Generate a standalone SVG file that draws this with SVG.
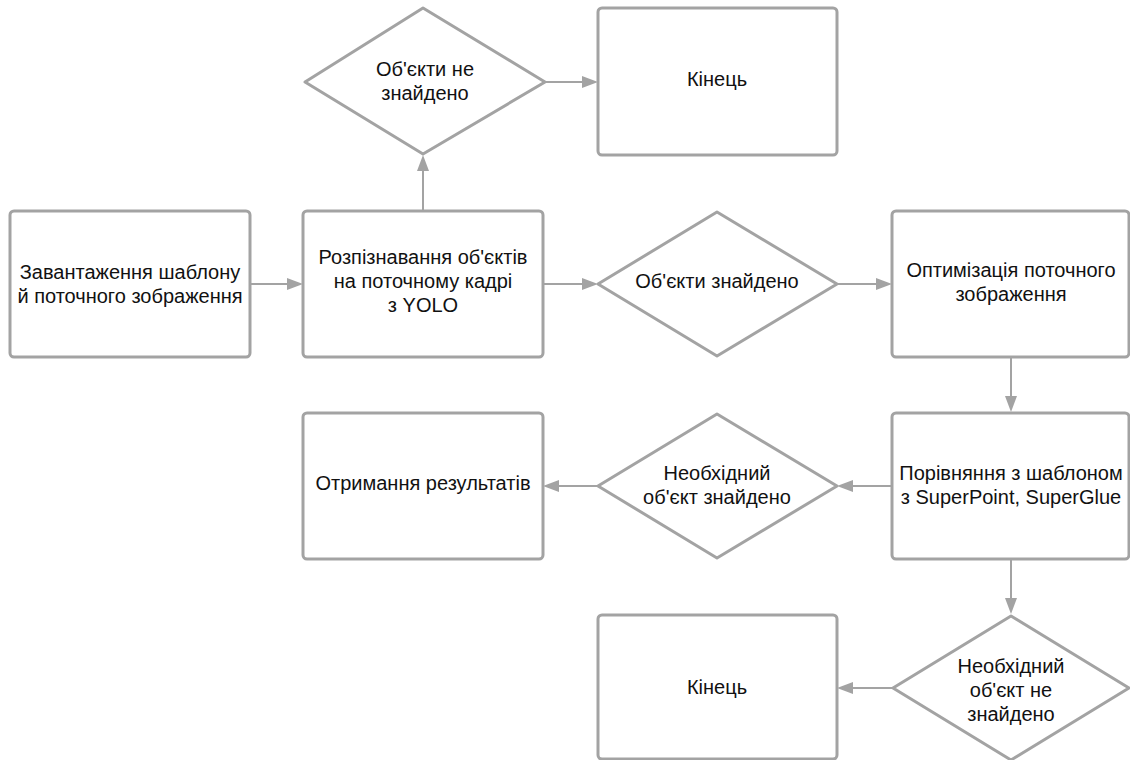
<svg xmlns="http://www.w3.org/2000/svg" width="1130" height="760" viewBox="0 0 1130 760">
  <style>
    .box { fill: #ffffff; stroke: #a3a3a3; stroke-width: 3; }
    .dia { fill: #ffffff; stroke: #a3a3a3; stroke-width: 3; stroke-linejoin: round; }
    .lbl { font-family: "Liberation Sans", Arial, sans-serif; font-size: 20px; fill: #111111; text-anchor: middle; }
    .conn { fill: none; stroke: #a3a3a3; stroke-width: 2; }
  </style>
  <defs>
    <!-- filled arrowhead; tip sits 10px beyond the end of the line -->
    <marker id="arrow" viewBox="0 0 16 12" refX="6" refY="6" markerWidth="16" markerHeight="12" markerUnits="userSpaceOnUse" orient="auto">
      <path d="M0,0 L16,6 L0,12 z" fill="#a3a3a3"/>
    </marker>
  </defs>
  <rect width="1130" height="760" fill="#ffffff"/>

  <!-- connectors -->
  <g id="connectors">
    <line class="conn" x1="250" y1="284" x2="293" y2="284" marker-end="url(#arrow)"/>
    <line class="conn" x1="423" y1="211" x2="423" y2="165" marker-end="url(#arrow)"/>
    <line class="conn" x1="545" y1="82" x2="588" y2="82" marker-end="url(#arrow)"/>
    <line class="conn" x1="543" y1="284" x2="588" y2="284" marker-end="url(#arrow)"/>
    <line class="conn" x1="837" y1="284" x2="882" y2="284" marker-end="url(#arrow)"/>
    <line class="conn" x1="1011" y1="357" x2="1011" y2="402" marker-end="url(#arrow)"/>
    <line class="conn" x1="892" y1="486" x2="847" y2="486" marker-end="url(#arrow)"/>
    <line class="conn" x1="598" y1="486" x2="553" y2="486" marker-end="url(#arrow)"/>
    <line class="conn" x1="1011" y1="559" x2="1011" y2="604" marker-end="url(#arrow)"/>
    <line class="conn" x1="892" y1="688" x2="847" y2="688" marker-end="url(#arrow)"/>
  </g>

  <!-- nodes -->
  <g id="load">
    <rect class="box" x="10" y="211" width="240" height="146" rx="4"/>
    <text class="lbl" x="130" y="279">Завантаження шаблону</text>
    <text class="lbl" x="130" y="303">й поточного зображення</text>
  </g>

  <g id="detect">
    <rect class="box" x="303" y="211" width="240" height="146" rx="4"/>
    <text class="lbl" x="423" y="264">Розпізнавання об'єктів</text>
    <text class="lbl" x="423" y="288">на поточному кадрі</text>
    <text class="lbl" x="423" y="312">з YOLO</text>
  </g>

  <g id="not-found">
    <polygon class="dia" points="423,8 545,82 423,154 305,82"/>
    <text class="lbl" x="425" y="76">Об'єкти не</text>
    <text class="lbl" x="425" y="100">знайдено</text>
  </g>

  <g id="end-top">
    <rect class="box" x="598" y="8" width="239" height="147" rx="4"/>
    <text class="lbl" x="717" y="86">Кінець</text>
  </g>

  <g id="found">
    <polygon class="dia" points="717,212 837,284 717,356 598,284"/>
    <text class="lbl" x="717" y="288">Об'єкти знайдено</text>
  </g>

  <g id="optimize">
    <rect class="box" x="892" y="211" width="237" height="146" rx="4"/>
    <text class="lbl" x="1011" y="277">Оптимізація поточного</text>
    <text class="lbl" x="1011" y="301">зображення</text>
  </g>

  <g id="match">
    <rect class="box" x="892" y="413" width="237" height="146" rx="4"/>
    <text class="lbl" x="1011" y="480">Порівняння з шаблоном</text>
    <text class="lbl" x="1011" y="504">з SuperPoint, SuperGlue</text>
  </g>

  <g id="target-found">
    <polygon class="dia" points="717,414 837,486 717,558 598,486"/>
    <text class="lbl" x="717" y="480">Необхідний</text>
    <text class="lbl" x="717" y="504">об'єкт знайдено</text>
  </g>

  <g id="results">
    <rect class="box" x="303" y="413" width="240" height="146" rx="4"/>
    <text class="lbl" x="423" y="490">Отримання результатів</text>
  </g>

  <g id="target-not-found">
    <polygon class="dia" points="1011,616 1129,688 1011,760 893,688"/>
    <text class="lbl" x="1011" y="673">Необхідний</text>
    <text class="lbl" x="1011" y="697">об'єкт не</text>
    <text class="lbl" x="1011" y="721">знайдено</text>
  </g>

  <g id="end-bottom">
    <rect class="box" x="598" y="615" width="239" height="144" rx="4"/>
    <text class="lbl" x="717" y="694">Кінець</text>
  </g>
</svg>
